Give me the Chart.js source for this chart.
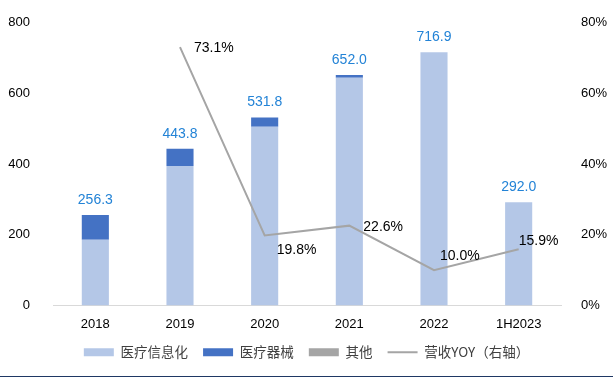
<!DOCTYPE html>
<html>
<head>
<meta charset="utf-8">
<script src="https://cdn.jsdelivr.net/npm/chart.js@4/dist/chart.umd.min.js"></script>
<style>
  html, body { margin: 0; padding: 0; background: #fff; }
  #wrap { position: relative; width: 613px; height: 379px; }
  #rule { position: absolute; left: 0; top: 376px; width: 613px; height: 1px; background: #1F3864; }
</style>
</head>
<body>
<div id="wrap">
  <canvas id="chart" width="613" height="379"></canvas>
  <div id="rule"></div>
</div>
<script>
// 数据
const years = ["2018", "2019", "2020", "2021", "2022", "1H2023"];
const infoRev = [186.0, 395.0, 506.0, 644.5, 716.9, 292.0];   // 医疗信息化
const deviceRev = [70.3, 48.8, 25.8, 7.5, 0, 0];              // 医疗器械
const otherRev = [0, 0, 0, 0, 0, 0];                          // 其他
const totalRev = [256.3, 443.8, 531.8, 652.0, 716.9, 292.0];
const yoy = [null, 73.1, 19.8, 22.6, 10.0, 15.9];             // 营收YOY（右轴）
const leftTicks = [0, 200, 400, 600, 800];
const rightTicks = [0, 20, 40, 60, 80];

// 标签位置偏移 (dx, dy) 相对于折线点
const yoyLabelOffset = [null, [14, 1], [12, 15], [14, 2], [6, -14], [0, -8]];

const labelPlugin = {
    id: "valueLabels",
    afterDatasetsDraw(chart) {
        const ctx = chart.ctx;
        const yScale = chart.scales.y;
        const topMeta = chart.getDatasetMeta(1);
        ctx.save();
        ctx.textAlign = "center";
        ctx.textBaseline = "middle";
        ctx.font = "14px 'Liberation Sans', Arial, sans-serif";
        ctx.fillStyle = "#2383D6";
        totalRev.forEach((v, i) => {
            const x = topMeta.data[i].x;
            const y = yScale.getPixelForValue(v);
            ctx.fillText(v.toFixed(1), x, y - 15);
        });
        const lineMeta = chart.getDatasetMeta(3);
        ctx.fillStyle = "#000";
        ctx.textAlign = "left";
        yoy.forEach((v, i) => {
            if (v === null) return;
            const p = lineMeta.data[i];
            const off = yoyLabelOffset[i];
            ctx.fillText(v.toFixed(1) + "%", p.x + off[0], p.y + off[1]);
        });
        ctx.restore();
    }
};

document.addEventListener("DOMContentLoaded", () => {
    const ctx = document.getElementById("chart").getContext("2d");
    const tickFont = { size: 13, family: "'Liberation Sans', Arial, sans-serif" };
    new Chart(ctx, {
        type: "bar",
        data: {
            labels: years,
            datasets: [
                { label: "医疗信息化", data: infoRev, backgroundColor: "#B4C7E7", stack: "s", pointStyle: "rect", barPercentage: 0.32, categoryPercentage: 1, order: 2 },
                { label: "医疗器械", data: deviceRev, backgroundColor: "#4472C4", stack: "s", pointStyle: "rect", barPercentage: 0.32, categoryPercentage: 1, order: 2 },
                { label: "其他", data: otherRev, backgroundColor: "#A5A5A5", stack: "s", pointStyle: "rect", barPercentage: 0.32, categoryPercentage: 1, order: 2 },
                { label: "营收YOY（右轴）", type: "line", data: yoy, yAxisID: "y1", borderColor: "#A5A5A5", backgroundColor: "#A5A5A5", borderWidth: 2, pointRadius: 0, pointStyle: "line", tension: 0, order: 1 }
            ]
        },
        options: {
            responsive: false,
            animation: false,
            layout: { padding: { left: 0, right: 0, top: 14, bottom: 10 } },
            plugins: {
                tooltip: { enabled: false },
                legend: {
                    position: "bottom",
                    labels: {
                        usePointStyle: true,
                        pointStyleWidth: 30,
                        boxHeight: 8,
                        padding: 15,
                        color: "#404040",
                        font: { size: 13.5, family: "'Noto Sans CJK SC', 'Liberation Sans', sans-serif" },
                        sort: (a, b) => a.datasetIndex - b.datasetIndex
                    }
                }
            },
            scales: {
                x: {
                    stacked: true,
                    afterFit: s => { s.height = 25; },
                    grid: { display: false },
                    border: { display: true, color: "#D9D9D9", width: 1 },
                    ticks: { color: "#000", font: tickFont, padding: 3 }
                },
                y: {
                    stacked: true,
                    min: 0, max: 800,
                    afterFit: s => { s.width = 53; },
                    afterBuildTicks: s => { s.ticks = leftTicks.map(v => ({ value: v })); },
                    grid: { display: false },
                    border: { display: false },
                    ticks: { color: "#000", padding: 15, font: tickFont }
                },
                y1: {
                    position: "right",
                    min: 0, max: 80,
                    afterFit: s => { s.width = 52; },
                    afterBuildTicks: s => { s.ticks = rightTicks.map(v => ({ value: v })); },
                    grid: { display: false },
                    border: { display: false },
                    ticks: { color: "#000", padding: 12, font: tickFont, callback: v => v + "%" }
                }
            }
        },
        plugins: [labelPlugin]
    });
});
</script>
</body>
</html>
